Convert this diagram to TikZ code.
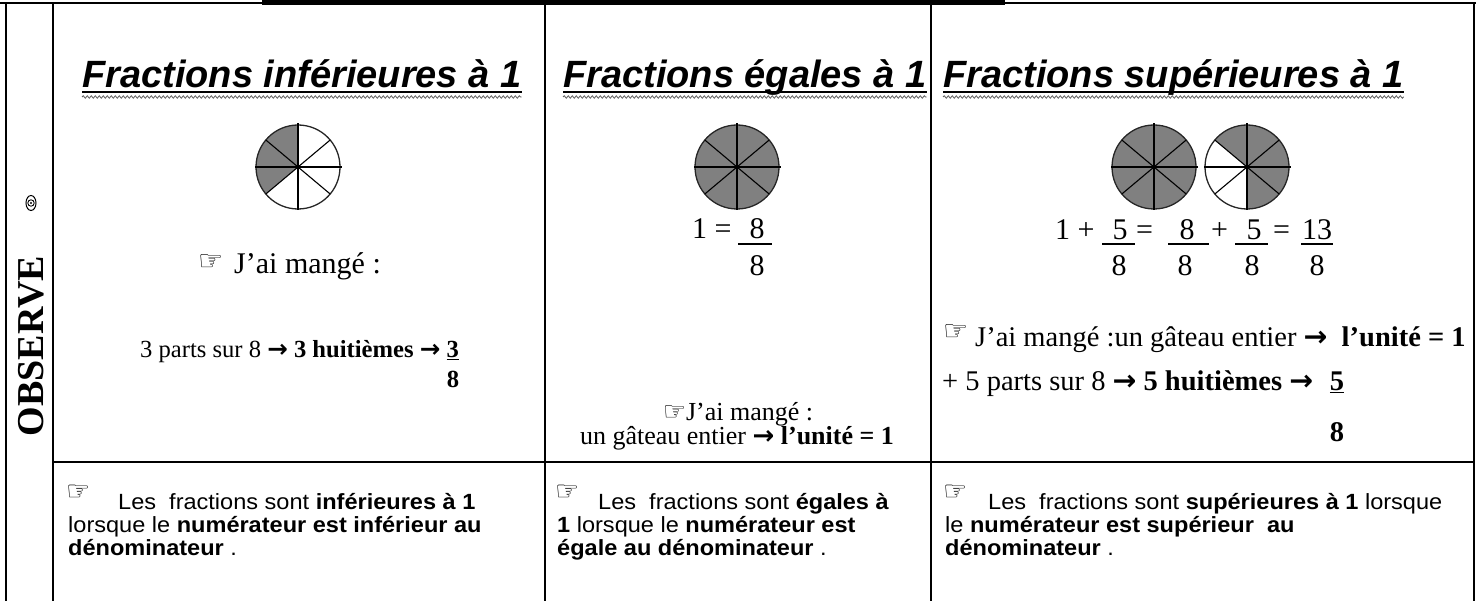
\documentclass[tikz,border=0pt]{standalone}
\usepackage{fontspec}
\setmainfont{Liberation Serif}
\newfontfamily\arialf{Liberation Sans}
\newfontfamily\arialw[FakeStretch=1.07]{Liberation Sans}
\newfontfamily\dvs{DejaVu Sans}
\usetikzlibrary{decorations.pathmorphing,calc}
\definecolor{piegray}{RGB}{128,128,128}
\definecolor{wavygray}{RGB}{95,95,95}
\newcommand{\hand}{{\dvs ☞}}
\newcommand{\rarr}{{\dvs\bfseries →}}
\newcommand{\gateau}[4]{%
  \fill[white] (#1,#2) circle (42);
  \fill[piegray] (#1,#2) -- ++(#3:42) arc[start angle=#3, end angle=#4, radius=42] -- cycle;
  \draw[line width=1.3pt, black!85] (#1,#2) circle (42);
  \foreach \a in {0,90,180,270} \draw[line width=2pt] (#1,#2) -- ++(\a:43.5);
  \foreach \a in {40,140,220,320} \draw[line width=1.1pt] (#1,#2) -- ++(\a:42);
}
\tikzset{
  gridline/.style={line width=2.4pt, black},
  head/.style={inner sep=0, anchor=base west, font=\arialf\bfseries\itshape\fontsize{38}{44}\selectfont},
  uline/.style={line width=2pt},
  wave/.style={wavygray, line width=0.8pt, decorate, decoration={snake, amplitude=1.2pt, segment length=4pt}},
  txt/.style={inner sep=0, anchor=base west},
  ctr/.style={inner sep=0, anchor=base},
  big/.style={font=\fontsize{30}{34}\selectfont},
  eqf/.style={font=\fontsize{30}{34}\selectfont},
  midf/.style={font=\fontsize{24.6}{28}\selectfont},
  smallf/.style={font=\fontsize{26}{30}\selectfont},
  c3f/.style={font=\fontsize{28.5}{32}\selectfont},
  handf/.style={font=\fontsize{28}{32}\selectfont},
  rhandf/.style={font=\fontsize{27}{30}\selectfont},
  rulef/.style={font=\arialw\fontsize{22}{25}\selectfont},
  frac/.style={line width=1.6pt},
}
\begin{document}
\begin{tikzpicture}[x=1pt,y=1pt]
\useasboundingbox (0,0) rectangle (1480,-601);
% table lines
\draw[line width=1.6pt] (0,-3) -- (1476,-3);
\fill (262,0) rectangle (1005,-5);
\foreach \xx in {6,53,545,931,1474} \draw[gridline] (\xx,-3) -- (\xx,-601);
\draw[gridline] (53,-462) -- (1474,-462);

% OBSERVE column
\node[inner sep=0, rotate=90, font=\bfseries\fontsize{38}{42}\selectfont] (obs) at (31,-346) {OBSERVE};
\draw[line width=1pt] (31,-203) ellipse (5 and 7.5);
\draw[line width=0.9pt] (31,-203) circle (3.2);
\fill (31,-203) circle (1.2);

% headers
\node[head] (h1) at (82,-88) {Fractions inférieures à 1};
\node[head] (h2) at (563,-88) {Fractions égales à 1};
\node[head] (h3) at (943,-88) {Fractions supérieures à 1};
\foreach \h in {h1,h2,h3}{
  \draw[uline] ($(\h.base west)+(0,-4)$) -- ($(\h.base east)+(0,-4)$);
  \draw[wave] ($(\h.base west)+(0,-9)$) -- ($(\h.base east)+(0,-9)$);
}

% cakes
\gateau{298}{-167}{90}{220}
\gateau{737}{-167}{0}{360}
\gateau{1154}{-167}{0}{360}
\gateau{1247}{-167}{-90}{140}

% column 1
\node[txt, handf] (p1) at (198,-271) {\hand};
\node[txt, big] (e1) at (234,-274) {J’ai mangé :};
\node[txt, midf] (t1) at (140,-358) {3 parts sur 8 \rarr\ \textbf{3 huitièmes} \rarr\ \textbf{\underline{3}}};
\node[ctr, midf] (d1) at (453,-387) {\textbf{8}};

% column 2
\node[txt, eqf] (one2) at (692,-239) {1 =};
\node[ctr, eqf] (n2) at (757,-239) {8};
\draw[frac] (738,-244) -- (772,-244);
\node[ctr, eqf] (dd2) at (757,-276) {8};
\node[ctr, smallf] (e2) at (738,-420) {\hand J’ai mangé :};
\node[ctr, smallf] (t2) at (737,-444) {un gâteau entier \rarr\ \textbf{l’unité = 1}};

% column 3 equation
\node[txt, eqf] (a1) at (1055,-240) {1 +};
\node[ctr, eqf] (a2) at (1120,-240) {5};
\draw[frac] (1102,-244) -- (1135,-244);
\node[txt, eqf] (a3) at (1136,-240) {=};
\node[ctr, eqf] (a4) at (1187,-240) {8};
\draw[frac] (1168,-244) -- (1209,-244);
\node[txt, eqf] (a5) at (1211,-240) {+};
\node[ctr, eqf] (a6) at (1254,-240) {5};
\draw[frac] (1235,-244) -- (1268,-244);
\node[txt, eqf] (a7) at (1273,-240) {=};
\node[ctr, eqf] (a8) at (1317,-240) {13};
\draw[frac] (1301,-244) -- (1333,-244);
\node[ctr, eqf] (b1) at (1119,-276) {8};
\node[ctr, eqf] (b2) at (1185,-276) {8};
\node[ctr, eqf] (b3) at (1252,-276) {8};
\node[ctr, eqf] (b4) at (1317,-276) {8};

% column 3 text
\node[txt, handf] (p3) at (943,-341) {\hand};
\node[txt, c3f] (e3) at (975,-347) {J’ai mangé :un gâteau entier \rarr\ \ \textbf{l’unité = 1}};
\node[txt, c3f] (t3) at (942,-391) {+ 5 parts sur 8 \rarr\ \textbf{5 huitièmes} \rarr};
\node[ctr, c3f] (n3) at (1337,-391) {\textbf{\underline{5}}};
\node[ctr, c3f] (d3) at (1337,-441) {\textbf{8}};

% rule row
\node[txt, rhandf] (r1h) at (66,-500) {\hand};
\node[txt, rulef] (r1a) at (118,-509) {Les\ \ fractions sont \textbf{inférieures à 1}};
\node[txt, rulef] (r1b) at (68,-532) {lorsque le \textbf{numérateur est inférieur au}};
\node[txt, rulef] (r1c) at (68,-555) {\textbf{dénominateur} .};

\node[txt, rhandf] (r2h) at (555,-500) {\hand};
\node[txt, rulef] (r2a) at (598,-509) {Les\ \ fractions sont \textbf{égales à}};
\node[txt, rulef] (r2b) at (557,-532) {\textbf{1} lorsque le \textbf{numérateur est}};
\node[txt, rulef] (r2c) at (557,-555) {\textbf{égale au dénominateur} .};

\node[txt, rhandf] (r3h) at (943,-500) {\hand};
\node[txt, rulef] (r3a) at (988,-509) {Les\ \ fractions sont \textbf{supérieures à 1} lorsque};
\node[txt, rulef] (r3b) at (945,-532) {le \textbf{numérateur est supérieur\ \ au}};
\node[txt, rulef] (r3c) at (945,-555) {\textbf{dénominateur} .};
\end{tikzpicture}
\end{document}
